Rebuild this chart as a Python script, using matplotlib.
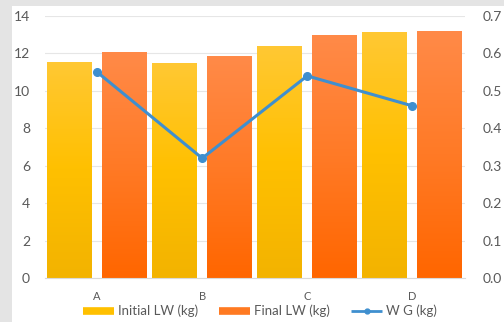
import numpy as np
import matplotlib
matplotlib.use("Agg")
import matplotlib.pyplot as plt
from matplotlib.lines import Line2D
from matplotlib.patches import Rectangle
from matplotlib.colors import LinearSegmentedColormap

categories = ["A", "B", "C", "D"]
initial_lw = [11.55, 11.5, 12.4, 13.15]
final_lw = [12.1, 11.85, 13.0, 13.2]
weight_gain = [0.55, 0.32, 0.54, 0.46]

plt.rcParams['font.family'] = ['Lato', 'DejaVu Sans']
text_grey = '#595959'

fig = plt.figure(figsize=(5.04, 3.22), dpi=100, facecolor='#e4e4e4')
# white chart panel over the grey border
fig.patches.append(Rectangle((12 / 504, 0), 1, 1 - 6 / 322, transform=fig.transFigure,
                             facecolor='white', edgecolor='none', zorder=-1))

ax = fig.add_axes([44.7 / 504, 1 - 278 / 322, 420 / 504, 262 / 322])
ax.set_facecolor('none')

x = np.arange(len(categories))
w = 0.428
off = 0.26

yellow_cmap = LinearSegmentedColormap.from_list('y', ['#ffc833', '#ffc000', '#f3b300'])
orange_cmap = LinearSegmentedColormap.from_list('o', ['#ff8a48', '#ff7a26', '#ff6600'])

bars1 = ax.bar(x - off, initial_lw, w, color='#ffc000', zorder=2)
bars2 = ax.bar(x + off, final_lw, w, color='#ff7a22', zorder=2)

# vertical gradient fill clipped to each bar
grad = np.linspace(0, 1, 100).reshape(-1, 1)
for bars, cmap in [(bars1, yellow_cmap), (bars2, orange_cmap)]:
    for b in bars:
        x0, y0 = b.get_x(), b.get_y()
        im = ax.imshow(grad, cmap=cmap, aspect='auto', zorder=2.5,
                       extent=[x0, x0 + b.get_width(), y0, y0 + b.get_height()])
        im.set_clip_path(b)

ax.set_xlim(-0.5, 3.5)
ax.set_ylim(0, 14)
ax.set_yticks(range(0, 15, 2))
ax.set_xticks(x)
ax.set_xticklabels(categories)
ax.grid(axis='y', color='#e6e6e6', linewidth=0.8, zorder=0)
ax.set_axisbelow(True)
for s in ['top', 'right', 'left']:
    ax.spines[s].set_visible(False)
ax.spines['bottom'].set_color('#d9d9d9')
ax.tick_params(length=0, colors=text_grey, labelsize=10)
ax.tick_params(axis='y', pad=10.5)
ax.tick_params(axis='x', labelsize=8, pad=9)

ax2 = ax.twinx()
ax2.plot(x, weight_gain, color='#3f8fcf', linewidth=2.2, marker='o', markersize=5.5, zorder=5)
ax2.set_ylim(0, 0.7)
ax2.set_yticks(np.arange(0, 0.71, 0.1))
ax2.set_yticklabels([f"{v:.1f}" for v in np.arange(0, 0.71, 0.1)])
for s in ax2.spines.values():
    s.set_visible(False)
ax2.tick_params(length=0, colors=text_grey, labelsize=10, pad=13)

handles = [Line2D([], [], color='#ffc000', linewidth=5.5, solid_capstyle='butt'),
           Line2D([], [], color='#ff7a22', linewidth=5.5, solid_capstyle='butt'),
           Line2D([], [], color='#3f8fcf', linewidth=2, marker='o', markersize=3.5,
                  solid_capstyle='butt')]
labels = ["Initial LW (kg)", "Final LW (kg)", "W G (kg)"]
fig.legend(handles, labels, loc='center', bbox_to_anchor=(0.516, 1 - 311 / 322), ncol=3,
           frameon=False, fontsize=9.5, handlelength=2.35, handletextpad=0.3,
           columnspacing=1.6, labelcolor=text_grey)

fig.savefig("out.png", dpi=100, facecolor=fig.get_facecolor())
